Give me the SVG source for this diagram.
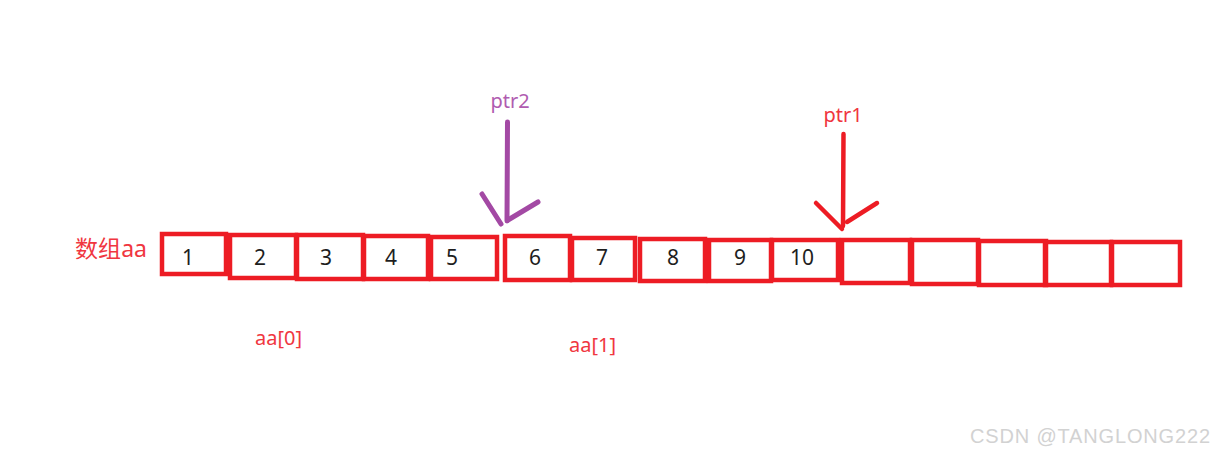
<svg xmlns="http://www.w3.org/2000/svg" width="1219" height="451" viewBox="0 0 1219 451">
<style>
.cell{fill:none;stroke:#ed1c24;stroke-width:4.5}
.num{font-family:"Noto Sans","Liberation Sans",sans-serif;font-size:21px;fill:#1e1e1e;text-anchor:middle}
.lbl{font-family:"Noto Sans","Noto Sans CJK SC","Liberation Sans",sans-serif;font-size:20px;fill:#f03640}
.red{stroke:#ed1c24;stroke-width:4.5;fill:none;stroke-linecap:round;stroke-linejoin:round}
.pur{stroke:#a349a4;stroke-width:5;fill:none;stroke-linecap:round;stroke-linejoin:round}
</style>
<rect width="1219" height="451" fill="#ffffff"/>
<g id="label-array"><text class="lbl" x="75" y="257" style="font-size:23px" textLength="72">数组aa</text></g>
<g id="cell1"><rect class="cell" x="162" y="234" width="64" height="40"/><text class="num" x="188" y="265">1</text></g>
<g id="cell2"><rect class="cell" x="230" y="235" width="66" height="43"/><text class="num" x="260" y="265">2</text></g>
<g id="cell3"><rect class="cell" x="297" y="235" width="66" height="44"/><text class="num" x="326" y="265">3</text></g>
<g id="cell4"><rect class="cell" x="364" y="236" width="64" height="43"/><text class="num" x="391" y="265">4</text></g>
<g id="cell5"><rect class="cell" x="431" y="237" width="66" height="42"/><text class="num" x="452" y="265">5</text></g>
<g id="cell6"><rect class="cell" x="505" y="236" width="65" height="44"/><text class="num" x="535" y="265">6</text></g>
<g id="cell7"><rect class="cell" x="572" y="238" width="63" height="42"/><text class="num" x="602" y="265">7</text></g>
<g id="cell8"><rect class="cell" x="640" y="239" width="65" height="42"/><text class="num" x="673" y="265">8</text></g>
<g id="cell9"><rect class="cell" x="709" y="240" width="62" height="41"/><text class="num" x="740" y="265">9</text></g>
<g id="cell10"><rect class="cell" x="772" y="240" width="66" height="40"/><text class="num" x="802" y="265">10</text></g>
<g id="cell11"><rect class="cell" x="842" y="240" width="68" height="43"/></g>
<g id="cell12"><rect class="cell" x="912" y="240" width="66" height="44"/></g>
<g id="cell13"><rect class="cell" x="979" y="241" width="67" height="44"/></g>
<g id="cell14"><rect class="cell" x="1045" y="242" width="66" height="43"/></g>
<g id="cell15"><rect class="cell" x="1112" y="242" width="68" height="43"/></g>
<g id="ptr2"><text class="lbl" x="510" y="108" style="fill:#b05cb0" text-anchor="middle">ptr2</text></g>
<g id="ptr1"><text class="lbl" x="843" y="122" text-anchor="middle">ptr1</text></g>
<g id="aa0"><text class="lbl" x="255" y="345">aa[0]</text></g>
<g id="aa1"><text class="lbl" x="569" y="352">aa[1]</text></g>
<g id="connectors">
<path class="pur" d="M507.5,122 L507,221"/>
<path class="pur" d="M482,194 L501,224 M538,202 L508,220"/>
<path class="red" d="M843.5,134 L843,226"/>
<path class="red" d="M816,203 L842,229 M877,203 L847,222"/>
</g>
<g id="watermark"><text x="970" y="443" font-family="Liberation Sans,sans-serif" font-size="20" fill="#d2d2d2" textLength="240">CSDN @TANGLONG222</text></g>
</svg>
